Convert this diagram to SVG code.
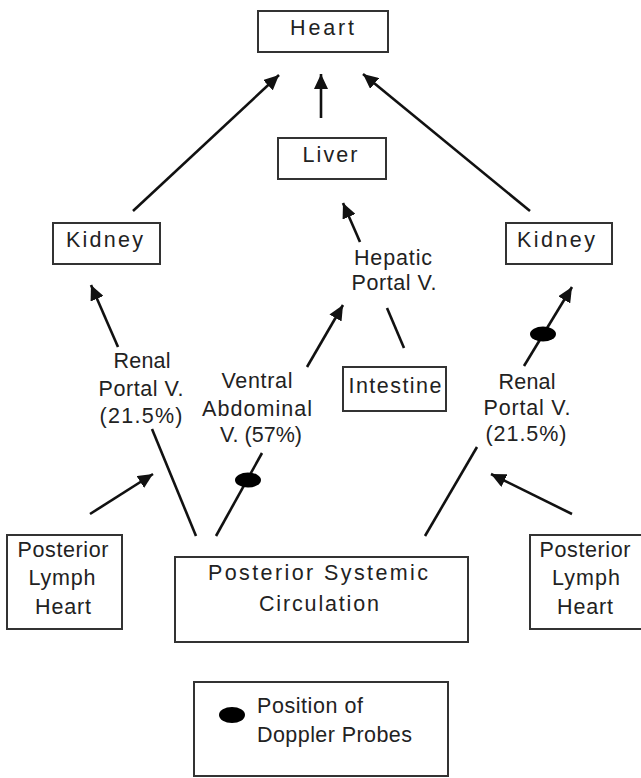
<svg xmlns="http://www.w3.org/2000/svg" width="641" height="778" viewBox="0 0 641 778">
<defs>
<style>
.box{fill:#fff;stroke:#333;stroke-width:2}
.t{font-family:"Liberation Sans",Arial,sans-serif;font-size:21.5px;fill:#222;text-anchor:middle}
.tl{font-family:"Liberation Sans",Arial,sans-serif;font-size:21.5px;fill:#222}
.c{stroke:#111;stroke-width:2.6;fill:none}
.a{marker-end:url(#ah)}
.probe{fill:#000}
</style>
<marker id="ah" markerUnits="userSpaceOnUse" markerWidth="16" markerHeight="14" refX="15" refY="7" orient="auto">
<path d="M0,0 L15,7 L0,14 z" fill="#111"/>
</marker>
</defs>
<rect width="641" height="778" fill="#fff"/>

<g id="connectors">
<line class="c a" x1="321" y1="118" x2="321" y2="74"/>
<line class="c a" x1="133" y1="211" x2="279" y2="75"/>
<line class="c a" x1="530" y1="211" x2="363" y2="74"/>
<line class="c a" x1="118" y1="347" x2="91" y2="285"/>
<line class="c a" x1="360" y1="242" x2="343" y2="203"/>
<line class="c a" x1="307" y1="367" x2="343" y2="305"/>
<line class="c" x1="387" y1="308" x2="404" y2="348"/>
<line class="c a" x1="524" y1="366" x2="572" y2="287"/>
<line class="c" x1="152" y1="429" x2="196" y2="536"/>
<line class="c" x1="216" y1="536" x2="262" y2="453"/>
<line class="c" x1="477" y1="447" x2="425" y2="536"/>
<line class="c a" x1="90" y1="514" x2="153" y2="474"/>
<line class="c a" x1="572" y1="514" x2="491" y2="474"/>
<ellipse class="probe" cx="248" cy="480" rx="13" ry="7.5"/>
<ellipse class="probe" cx="543" cy="334" rx="13" ry="7.5"/>
</g>

<g id="heart">
<rect class="box" x="258" y="11" width="130" height="41"/>
<text class="t" x="322" y="35" textLength="64" lengthAdjust="spacing">Heart</text>
</g>
<g id="liver">
<rect class="box" x="278" y="138" width="108" height="41"/>
<text class="t" x="330" y="162" textLength="55" lengthAdjust="spacing">Liver</text>
</g>
<g id="kidney-left">
<rect class="box" x="53" y="223" width="107" height="41"/>
<text class="t" x="104.5" y="247" textLength="77" lengthAdjust="spacing">Kidney</text>
</g>
<g id="kidney-right">
<rect class="box" x="506" y="223" width="106" height="41"/>
<text class="t" x="556" y="247" textLength="78" lengthAdjust="spacing">Kidney</text>
</g>
<g id="hepatic-label">
<text class="t" x="393" y="265" textLength="78" lengthAdjust="spacing">Hepatic</text>
<text class="t" x="394" y="290" textLength="85" lengthAdjust="spacing">Portal V.</text>
</g>
<g id="renal-left-label">
<text class="t" x="142" y="368" textLength="57" lengthAdjust="spacing">Renal</text>
<text class="t" x="141" y="396" textLength="85" lengthAdjust="spacing">Portal V.</text>
<text class="t" x="141" y="423" textLength="83" lengthAdjust="spacing">(21.5%)</text>
</g>
<g id="renal-right-label">
<text class="t" x="527" y="389" textLength="57" lengthAdjust="spacing">Renal</text>
<text class="t" x="527" y="415" textLength="87" lengthAdjust="spacing">Portal V.</text>
<text class="t" x="526" y="441" textLength="81" lengthAdjust="spacing">(21.5%)</text>
</g>
<g id="ventral-label">
<text class="t" x="257" y="388" textLength="71" lengthAdjust="spacing">Ventral</text>
<text class="t" x="257" y="416" textLength="110" lengthAdjust="spacing">Abdominal</text>
<text class="t" x="261" y="442" textLength="82" lengthAdjust="spacing">V. (57%)</text>
</g>
<g id="intestine">
<rect class="box" x="343" y="367" width="103" height="44"/>
<text class="t" x="395" y="393" textLength="93" lengthAdjust="spacing">Intestine</text>
</g>
<g id="lymph-left">
<rect class="box" x="7" y="535" width="115" height="94"/>
<text class="t" x="63" y="557" textLength="91" lengthAdjust="spacing">Posterior</text>
<text class="t" x="62" y="585" textLength="67" lengthAdjust="spacing">Lymph</text>
<text class="t" x="63" y="614" textLength="56" lengthAdjust="spacing">Heart</text>
</g>
<g id="systemic">
<rect class="box" x="175" y="557" width="293" height="85"/>
<text class="t" x="318" y="580" textLength="220" lengthAdjust="spacing">Posterior  Systemic</text>
<text class="t" x="319" y="611" textLength="120" lengthAdjust="spacing">Circulation</text>
</g>
<g id="lymph-right">
<rect class="box" x="530" y="535" width="115" height="94"/>
<text class="t" x="585" y="557" textLength="91" lengthAdjust="spacing">Posterior</text>
<text class="t" x="586" y="585" textLength="68" lengthAdjust="spacing">Lymph</text>
<text class="t" x="585" y="614" textLength="56" lengthAdjust="spacing">Heart</text>
</g>
<g id="legend">
<rect class="box" x="194" y="682" width="254" height="94"/>
<ellipse class="probe" cx="232" cy="715" rx="13" ry="8"/>
<text class="tl" x="257" y="713" textLength="106" lengthAdjust="spacing">Position of</text>
<text class="tl" x="257" y="742" textLength="155" lengthAdjust="spacing">Doppler Probes</text>
</g>
</svg>
